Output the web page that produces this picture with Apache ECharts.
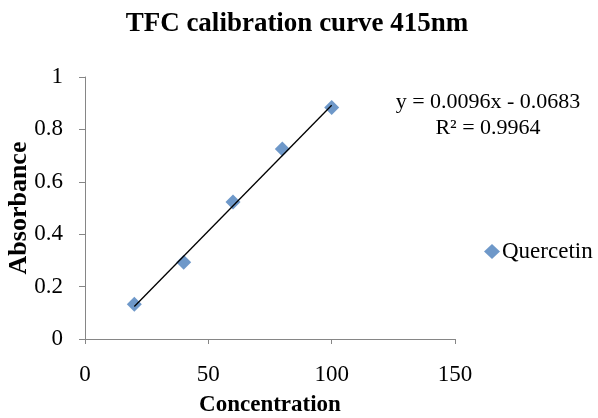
<!DOCTYPE html>
<html>
<head>
<meta charset="utf-8">
<script src="https://cdn.jsdelivr.net/npm/echarts@6/dist/echarts.min.js"></script>
<style>
html, body { margin: 0; padding: 0; background: #fff; }
#chart { width: 598px; height: 418px; }
</style>
</head>
<body>
<div id="chart"></div>
<script>
var concentration = [20, 40, 60, 80, 100];
var absorbance = [0.133, 0.293, 0.523, 0.725, 0.884];
// trendline ends
var trendX = [20, 100];
var trendY = [0.124, 0.892];
var equationText = 'y = 0.0096x - 0.0683';
var r2Text = 'R² = 0.9964';

var font = 'Liberation Serif';
var myChart = echarts.init(document.getElementById('chart'));

var points = concentration.map(function (x, i) { return [x, absorbance[i]]; });
var trend = trendX.map(function (x, i) { return [x, trendY[i]]; });

option = {
    animation: false,
    textStyle: { fontFamily: font },
    title: {
        text: 'TFC calibration curve 415nm',
        left: 292, top: 6,
        textAlign: 'center',
        textStyle: { fontFamily: font, fontWeight: 'bold', fontSize: 27, color: '#000' }
    },
    grid: { left: 85, right: 143, top: 77, bottom: 79, containLabel: false, outerBoundsMode: 'none' },
    legend: {
        data: ['Quercetin'],
        left: 484, top: 240, padding: 0,
        itemWidth: 16, itemHeight: 15, itemGap: 2,
        textStyle: { fontFamily: font, fontSize: 23, color: '#000', padding: [0, 0, 0, -3] }
    },
    xAxis: {
        type: 'value',
        min: 0, max: 150, interval: 50,
        name: 'Concentration',
        nameLocation: 'middle', nameGap: 55, nameMoveOverlap: false,
        nameTextStyle: { fontFamily: font, fontWeight: 'bold', fontSize: 23, color: '#000' },
        axisLine: { show: true, lineStyle: { color: '#868686' } },
        axisTick: { show: true, length: 5, lineStyle: { color: '#868686' } },
        axisLabel: { fontFamily: font, fontSize: 23, color: '#000', margin: 24 },
        splitLine: { show: false }
    },
    yAxis: {
        type: 'value',
        min: 0, max: 1, interval: 0.2,
        name: 'Absorbance',
        nameLocation: 'middle', nameGap: 53, nameRotate: 90, nameMoveOverlap: false,
        nameTextStyle: { fontFamily: font, fontWeight: 'bold', fontSize: 26, color: '#000' },
        axisLine: { show: true, lineStyle: { color: '#868686' } },
        axisTick: { show: true, length: 6, lineStyle: { color: '#868686' } },
        axisLabel: { fontFamily: font, fontSize: 23, color: '#000', margin: 22 },
        splitLine: { show: false }
    },
    graphic: [
        {
            type: 'text', x: 488, y: 102,
            style: { text: equationText, font: '22px ' + font, fill: '#000', align: 'center', verticalAlign: 'middle' }
        },
        {
            type: 'text', x: 488, y: 128,
            style: { text: r2Text, font: '22px ' + font, fill: '#000', align: 'center', verticalAlign: 'middle' }
        }
    ],
    series: [
        {
            name: 'trend',
            type: 'line',
            data: trend,
            symbol: 'none',
            lineStyle: { color: '#000', width: 1.3 },
            z: 3
        },
        {
            name: 'Quercetin',
            type: 'scatter',
            data: points,
            symbol: 'diamond',
            symbolSize: [15, 15],
            itemStyle: { color: '#4A7EBB' },
            z: 2
        }
    ]
};
myChart.setOption(option);
</script>
</body>
</html>
